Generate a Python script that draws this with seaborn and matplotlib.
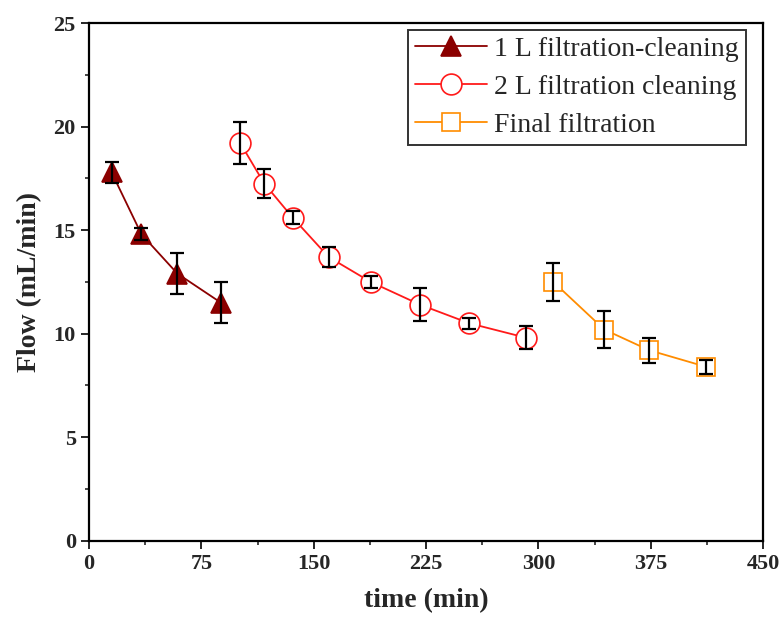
import numpy as np
import pandas as pd
import matplotlib
matplotlib.use("Agg")
import matplotlib.pyplot as plt
import seaborn as sns
from matplotlib.ticker import MultipleLocator

# data
t_1l = [15, 35, 59, 88]
flow_1l = [17.8, 14.8, 12.9, 11.5]
err_1l = [0.5, 0.3, 1.0, 1.0]

t_2l = [101, 117, 136, 160, 188, 221, 254, 292]
flow_2l = [19.2, 17.25, 15.6, 13.7, 12.5, 11.4, 10.5, 9.8]
err_2l = [1.0, 0.7, 0.3, 0.5, 0.3, 0.8, 0.25, 0.55]

t_final = [310, 344, 374, 412]
flow_final = [12.5, 10.2, 9.2, 8.4]
err_final = [0.9, 0.9, 0.6, 0.35]

sns.set_theme(style="ticks")
plt.rcParams['font.family'] = ['Liberation Serif', 'DejaVu Serif']

fig = plt.figure(figsize=(7.81, 6.23), dpi=100)
ax = fig.add_axes([0.114, 0.132, 0.863, 0.831])

series = [
    ("1 L filtration-cleaning", t_1l, flow_1l, err_1l, "#8b0000", "^", "#8b0000", 15),
    ("2 L filtration cleaning", t_2l, flow_2l, err_2l, "#ff1a1a", "o", "white", 15),
    ("Final filtration", t_final, flow_final, err_final, "#ff8c00", "s", "white", 13),
]

for name, t, f, e, col, mk, face, ms in series:
    df = pd.DataFrame({"time": t, "flow": f})
    sns.lineplot(data=df, x="time", y="flow", ax=ax, color=col, marker=mk,
                 markersize=ms, markerfacecolor=face, markeredgecolor=col,
                 markeredgewidth=1.2, linewidth=1.3, label=name)
    ax.errorbar(t, f, yerr=e, fmt="none", ecolor="black", elinewidth=1.6,
                capsize=5, capthick=1.6, zorder=5)

ax.set_xlim(0, 450)
ax.set_ylim(0, 25)
ax.xaxis.set_major_locator(MultipleLocator(75))
ax.xaxis.set_minor_locator(MultipleLocator(37.5))
ax.yaxis.set_major_locator(MultipleLocator(5))
ax.yaxis.set_minor_locator(MultipleLocator(2.5))
ax.tick_params(which="major", direction="out", length=6, width=1.4, labelsize=16)
ax.tick_params(which="minor", direction="out", length=3, width=1.2)
for lab in ax.get_xticklabels() + ax.get_yticklabels():
    lab.set_fontweight("bold")
for sp in ax.spines.values():
    sp.set_linewidth(1.6)
    sp.set_color("black")

ax.set_xlabel("time (min)", fontsize=20, fontweight="bold", labelpad=10)
ax.set_ylabel("Flow (mL/min)", fontsize=20, fontweight="bold", labelpad=8)

leg = ax.legend(loc="upper right", bbox_to_anchor=(0.974, 0.987), fontsize=20,
                frameon=True, fancybox=False, edgecolor="black", handlelength=2.6,
                borderpad=0.25, labelspacing=0.45, handletextpad=0.25,
                borderaxespad=0.0)
leg.get_frame().set_linewidth(1.4)

fig.savefig("out.png", dpi=100)
